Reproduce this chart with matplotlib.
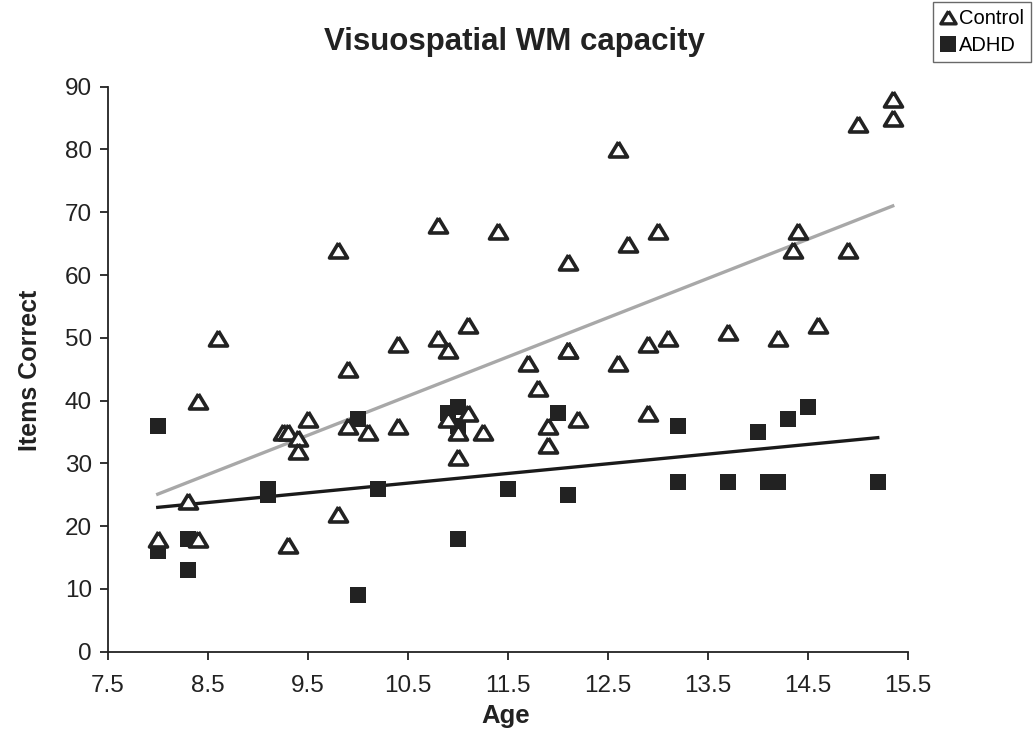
import matplotlib
matplotlib.use("Agg")
import matplotlib.pyplot as plt
from matplotlib.lines import Line2D

# Control group (age, items correct)
control_age = [8.0, 8.3, 8.4, 8.4, 8.6, 9.25, 9.3, 9.3, 9.4, 9.4, 9.5, 9.8, 9.8, 9.9, 9.9,
               10.1, 10.4, 10.4, 10.8, 10.8, 10.9, 10.9, 11.0, 11.0, 11.1, 11.1, 11.25, 11.4,
               11.7, 11.8, 11.9, 11.9, 12.1, 12.1, 12.1, 12.2, 12.6, 12.6, 12.7, 12.9, 12.9,
               13.0, 13.1, 13.7, 14.2, 14.35, 14.4, 14.6, 14.9, 15.0, 15.35, 15.35]
control_score = [18, 24, 18, 40, 50, 35, 35, 17, 34, 32, 37, 64, 22, 45, 36,
                 35, 49, 36, 68, 50, 48, 37, 35, 31, 52, 38, 35, 67,
                 46, 42, 36, 33, 62, 48, 48, 37, 80, 46, 65, 49, 38,
                 67, 50, 51, 50, 64, 67, 52, 64, 84, 85, 88]

# ADHD group
adhd_age = [8.0, 8.0, 8.3, 8.3, 9.1, 9.1, 10.0, 10.0, 10.2, 10.9, 11.0, 11.0, 11.0,
            11.5, 12.0, 12.1, 13.2, 13.2, 13.7, 14.0, 14.1, 14.2, 14.3, 14.5, 15.2]
adhd_score = [36, 16, 18, 13, 26, 25, 37, 9, 26, 38, 39, 36, 18,
              26, 38, 25, 36, 27, 27, 35, 27, 27, 37, 39, 27]

# linear trend lines (end points)
control_trend_x = [8.0, 15.35]
control_trend_y = [25.1, 71.0]
adhd_trend_x = [8.0, 15.2]
adhd_trend_y = [23.0, 34.1]

xticks = [7.5, 8.5, 9.5, 10.5, 11.5, 12.5, 13.5, 14.5, 15.5]
yticks = [0, 10, 20, 30, 40, 50, 60, 70, 80, 90]

plt.rcParams['font.family'] = ['Liberation Sans', 'DejaVu Sans']
dark = '#222222'
# open triangle, a bit wider than tall (closed path)
tri = [(0, 0.83), (-1, -0.83), (1, -0.83), (0, 0.83)]

fig = plt.figure(figsize=(10.34, 7.34), dpi=100)
ax = fig.add_axes([0.1042, 0.112, 0.7737, 0.770])

ax.plot(control_trend_x, control_trend_y, color='#a8a8a8', lw=2.4, zorder=1)
ax.plot(adhd_trend_x, adhd_trend_y, color='#1a1a1a', lw=2.4, zorder=1)
ax.plot(control_age, control_score, ls='none', marker=tri, ms=13, mfc='white',
        mec=dark, mew=2.6, zorder=3)
ax.plot(adhd_age, adhd_score, ls='none', marker='s', ms=12, mfc=dark,
        mec=dark, mew=0, zorder=2)

ax.set_xlim(7.5, 15.5)
ax.set_ylim(0, 90)
ax.set_xticks(xticks)
ax.set_xticklabels([str(t) for t in xticks])
ax.set_yticks(yticks)
for s in ['top', 'right']:
    ax.spines[s].set_visible(False)
for s in ['left', 'bottom']:
    ax.spines[s].set_linewidth(1.3)
    ax.spines[s].set_color(dark)
ax.tick_params(direction='out', length=5.5, width=1.3, color=dark,
               labelsize=17.5, labelcolor=dark)
ax.tick_params(axis='x', pad=11)
ax.tick_params(axis='y', pad=6)

fig.text(514 / 1034, 1 - 42 / 734, 'Visuospatial WM capacity', ha='center', va='center',
         fontsize=22.5, fontweight='bold', color=dark)
fig.text(506 / 1034, 1 - 716 / 734, 'Age', ha='center', va='center',
         fontsize=18.5, fontweight='bold', color=dark)
fig.text(30 / 1034, 1 - 370 / 734, 'Items Correct', ha='center', va='center', rotation=90,
         fontsize=18, fontweight='bold', color=dark)

handles = [Line2D([], [], ls='none', marker=tri, ms=11, mfc='white', mec=dark, mew=2.4),
           Line2D([], [], ls='none', marker='s', ms=11.5, mfc=dark, mec=dark, mew=0)]
leg = fig.legend(handles, ['Control', 'ADHD'], loc='upper right',
                 bbox_to_anchor=(1031 / 1034, 1 - 2 / 734), frameon=True, fancybox=False,
                 handlelength=0.8, handletextpad=0.15, borderpad=0.35, labelspacing=0.4,
                 borderaxespad=0, prop={'size': 14.5})
leg.get_frame().set_edgecolor('#444444')
leg.get_frame().set_linewidth(1.0)

fig.savefig('out.png', dpi=100)
